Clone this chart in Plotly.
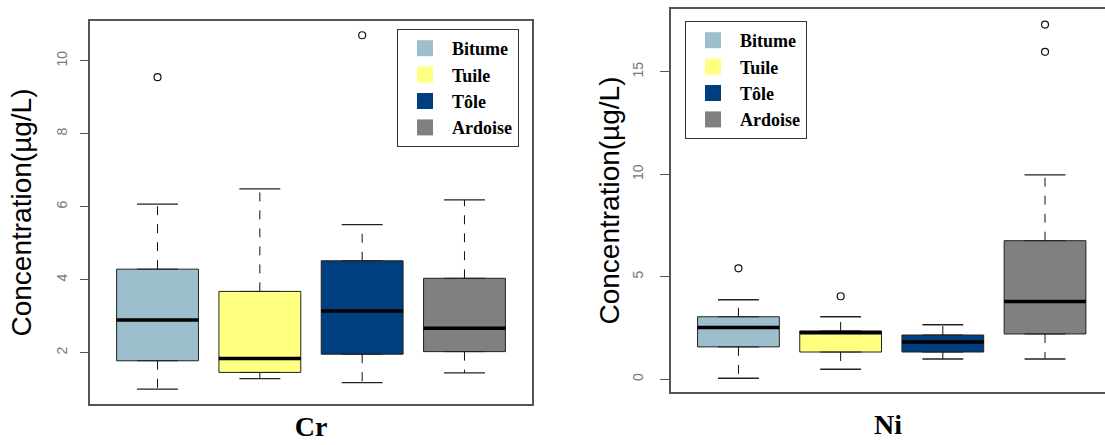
import plotly.graph_objects as go

categories = ["Bitume", "Tuile", "Tôle", "Ardoise"]
colors = ["#9DBFCD", "#FFFF80", "#003F7F", "#808080"]
positions = [1, 2, 3, 4]

# Cr statistics (µg/L)
cr_lower = [1.00, 1.29, 1.18, 1.45]
cr_q1 = [1.78, 1.46, 1.96, 2.03]
cr_median = [2.90, 1.84, 3.14, 2.67]
cr_q3 = [4.29, 3.68, 4.52, 4.04]
cr_upper = [6.07, 6.49, 5.51, 6.19]
cr_out_x = [1, 3]
cr_out_y = [9.55, 10.70]

# Ni statistics (µg/L)
ni_lower = [0.05, 0.49, 0.99, 0.99]
ni_q1 = [1.58, 1.33, 1.33, 2.21]
ni_median = [2.52, 2.27, 1.82, 3.79]
ni_q3 = [3.05, 2.36, 2.16, 6.76]
ni_upper = [3.88, 3.05, 2.66, 9.97]
ni_out_x = [1, 2, 4, 4]
ni_out_y = [5.41, 4.05, 17.30, 15.97]

BOX_W = 0.8
CAP_W = 0.4

fig = go.Figure()


def add_panel(xa, ya, lower, q1, med, q3, upper, ox, oy, legend_name):
    for i, cat in enumerate(categories):
        p = positions[i]
        fig.add_trace(go.Box(
            x=[p], q1=[q1[i]], median=[med[i]], q3=[q3[i]],
            lowerfence=[q1[i]], upperfence=[q3[i]],
            width=BOX_W, fillcolor=colors[i],
            line=dict(color="#222222", width=1),
            boxpoints=False, showlegend=False, hoverinfo="skip",
            xaxis=xa, yaxis=ya,
        ))
        # dashed whiskers
        fig.add_trace(go.Scatter(
            x=[p, p, None, p, p], y=[q3[i], upper[i], None, q1[i], lower[i]],
            mode="lines", line=dict(color="#111111", width=1, dash="dash"),
            showlegend=False, hoverinfo="skip", xaxis=xa, yaxis=ya,
        ))
        # whisker caps
        fig.add_trace(go.Scatter(
            x=[p - CAP_W / 2, p + CAP_W / 2, None, p - CAP_W / 2, p + CAP_W / 2],
            y=[upper[i], upper[i], None, lower[i], lower[i]],
            mode="lines", line=dict(color="#222222", width=1.3),
            showlegend=False, hoverinfo="skip", xaxis=xa, yaxis=ya,
        ))
        # thick median
        fig.add_trace(go.Scatter(
            x=[p - BOX_W / 2, p + BOX_W / 2], y=[med[i], med[i]],
            mode="lines", line=dict(color="black", width=3.5),
            showlegend=False, hoverinfo="skip", xaxis=xa, yaxis=ya,
        ))
    # outliers
    fig.add_trace(go.Scatter(
        x=ox, y=oy, mode="markers",
        marker=dict(symbol="circle-open", size=7, color="#111111", line=dict(width=1.2)),
        showlegend=False, hoverinfo="skip", xaxis=xa, yaxis=ya,
    ))
    # legend entries
    for i, cat in enumerate(categories):
        fig.add_trace(go.Scatter(
            x=[None], y=[None], mode="markers", name=cat,
            marker=dict(symbol="square", size=20, color=colors[i]),
            legend=legend_name, legendgroup=legend_name + cat,
            xaxis=xa, yaxis=ya,
        ))


add_panel("x", "y", cr_lower, cr_q1, cr_median, cr_q3, cr_upper, cr_out_x, cr_out_y, "legend")
add_panel("x2", "y2", ni_lower, ni_q1, ni_median, ni_q3, ni_upper, ni_out_x, ni_out_y, "legend2")

W, H = 1105, 445
frame = "#555555"
tickfont = dict(family="Liberation Sans, Arial", size=14, color="#777777")
ytitle_font = dict(family="Liberation Sans, Arial", size=28, color="black")
xtitle_font = dict(family="Liberation Serif, Times New Roman", size=28, color="black", weight="bold")
legfont = dict(family="Liberation Serif, Times New Roman", size=18, color="black", weight="bold")

common_x = dict(showticklabels=False, ticks="", showgrid=False, zeroline=False,
                showline=True, linecolor=frame, linewidth=1.5, mirror=True)

fig.update_layout(
    width=W, height=H,
    margin=dict(l=0, r=0, t=0, b=0),
    paper_bgcolor="white", plot_bgcolor="white",
    boxmode="overlay",
    showlegend=True,
    xaxis=dict(domain=[90 / W, 532 / W], range=[0.34, 4.66],
               title=dict(text="Cr", font=xtitle_font, standoff=12), **common_x),
    yaxis=dict(domain=[1 - 404 / H, 1 - 21 / H], range=[0.595, 11.09],
               tickvals=[2, 4, 6, 8, 10], tickangle=-90, ticks="outside", ticklen=8,
               tickcolor=frame, tickfont=tickfont, ticklabelstandoff=8,
               showgrid=False, zeroline=False, showline=True, linecolor=frame,
               linewidth=1.5, mirror=True,
               title=dict(text="Concentration(µg/L)", font=ytitle_font, standoff=14)),
    xaxis2=dict(domain=[671 / W, 1.0], range=[0.34, 4.587], anchor="y2",
                title=dict(text="Ni", font=xtitle_font, standoff=22), **common_x),
    yaxis2=dict(domain=[1 - 392 / H, 1 - 9 / H], range=[-0.62, 18.06], anchor="x2",
                tickvals=[0, 5, 10, 15], tickangle=-90, ticks="outside", ticklen=9,
                tickcolor=frame, tickfont=tickfont, ticklabelstandoff=12,
                showgrid=False, zeroline=False, showline=True, linecolor=frame,
                linewidth=1.5, mirror=False,
                title=dict(text="Concentration(µg/L)", font=ytitle_font, standoff=2)),
    legend=dict(x=397 / W, y=1 - 29 / H, xanchor="left", yanchor="top",
                bgcolor="white", bordercolor="#333333", borderwidth=1,
                font=legfont, tracegroupgap=0, itemsizing="trace", itemwidth=44),
    legend2=dict(x=685 / W, y=1 - 21 / H, xanchor="left", yanchor="top",
                 bgcolor="white", bordercolor="#333333", borderwidth=1,
                 font=legfont, tracegroupgap=0, itemsizing="trace", itemwidth=44),
)

fig.write_html("out.html", post_script="document.body.style.margin='0';",
               config={"displayModeBar": False})
